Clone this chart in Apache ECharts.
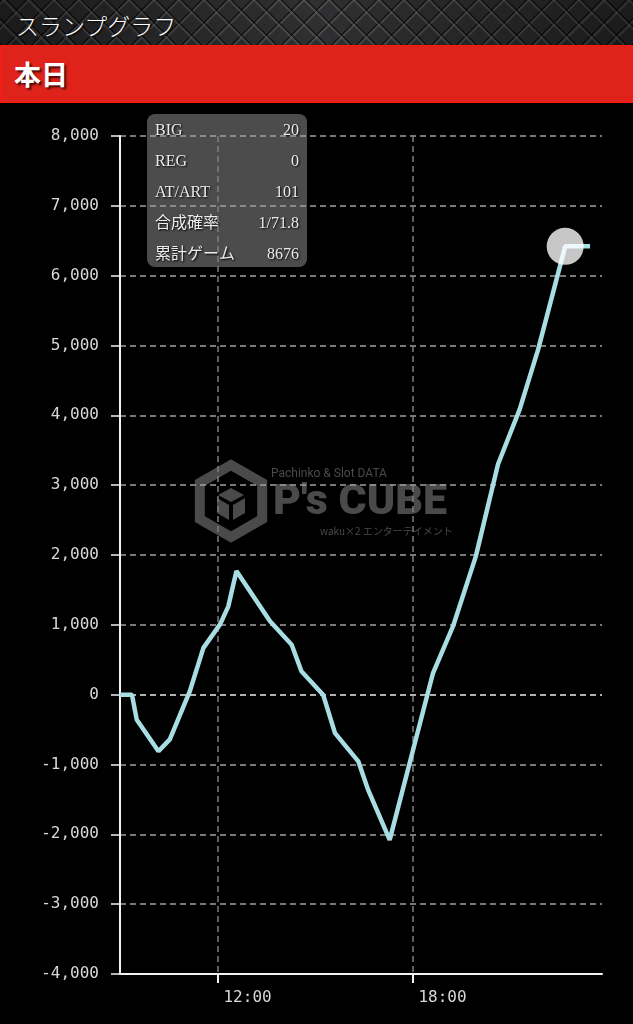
<!DOCTYPE html>
<html><head><meta charset="utf-8">
<script src="https://cdn.jsdelivr.net/npm/echarts@6/dist/echarts.min.js"></script>
<style>
html,body{margin:0;padding:0;background:#000;width:633px;height:1024px;overflow:hidden;}
#top{position:absolute;left:0;top:0;width:633px;height:45px;background-color:#29292b;
background-image:
 linear-gradient(90deg, rgba(0,0,0,0.35), rgba(255,255,255,0.03) 50%, rgba(0,0,0,0.35)),
 repeating-linear-gradient(45deg, rgba(0,0,0,0.6) 0 1.5px, transparent 1.5px 15.5px, rgba(110,110,110,0.35) 15.5px 17.7px),
 repeating-linear-gradient(-45deg, rgba(0,0,0,0.6) 0 1.5px, transparent 1.5px 15.5px, rgba(110,110,110,0.35) 15.5px 17.7px);}
#title{position:absolute;left:16px;top:3px;height:45px;line-height:45px;color:#fff;font-family:"Noto Sans CJK JP";font-weight:300;font-size:23px;text-shadow:1px 1px 2px #000;}
#band{position:absolute;left:0;top:45px;width:633px;height:58px;background:#df231b;box-sizing:border-box;border:1.5px solid #ff1a10;}
#day{position:absolute;left:14px;top:45px;height:58px;line-height:58px;color:#fff;font-family:"Noto Sans CJK JP";font-weight:700;font-size:27px;text-shadow:2px 2px 2px rgba(0,0,0,0.7);}
#chart{position:absolute;left:0;top:0;width:633px;height:1024px;}
</style></head>
<body>
<div id="top"></div><div id="title">スランプグラフ</div>
<div id="band"></div><div id="day">本日</div>
<div id="chart"></div>
<script>
// ---- data ----
const times = ["09:00","09:22","09:31","10:11","10:32","11:09","11:34","12:05","12:20","12:35","13:37","14:17","14:35","15:15","15:37","16:20","16:38","17:18","18:38","19:15","19:57","20:38","21:18","21:52","22:42","23:28"];
const values = [0,0,-360,-810,-640,50,670,1010,1265,1770,1050,715,335,0,-550,-955,-1360,-2080,310,980,1980,3300,4085,4940,6420,6420];
const xTickLabels = ["12:00","18:00"];
const statLabels = ["BIG","REG","AT/ART","合成確率","累計ゲーム"];
const statValues = ["20","0","101","1/71.8","8676"];
const currentIndex = 24;

const toMin = s => { const p = s.split(":"); return (+p[0])*60 + (+p[1]); };
const fmtTime = m => String(Math.floor(m/60)).padStart(2,"0") + ":" + String(m%60).padStart(2,"0");
const lineData = times.map((t,i)=>[toMin(t), values[i]]);
const xTicks = xTickLabels.map(toMin);

const yMin = -4000, yMax = 8000, yStep = 1000;
// split line colours: brighter at zero
const ySplitColors = [];
for (let v = yMin; v <= yMax; v += yStep) ySplitColors.push(v === 0 ? '#ececec' : '#a0a0a0');

const serif = '"Liberation Serif","Noto Sans CJK JP"';
const statChildren = [{
  type:'rect', shape:{x:147,y:114,width:160,height:153,r:8},
  style:{fill:'rgba(98,98,98,0.78)'}
}];
statLabels.forEach((l,i)=>{
  const y = 130.5 + i*31;
  statChildren.push({type:'text', style:{text:l, x:155, y:y, fill:'#ebebeb', font:'16px '+serif, textAlign:'left', textVerticalAlign:'middle', textShadowColor:'#000', textShadowBlur:2, textShadowOffsetX:1, textShadowOffsetY:1}});
  statChildren.push({type:'text', style:{text:statValues[i], x:299, y:y, fill:'#ebebeb', font:'16px '+serif, textAlign:'right', textVerticalAlign:'middle', textShadowColor:'#000', textShadowBlur:2, textShadowOffsetX:1, textShadowOffsetY:1}});
});

const wm = '#4a4a4a';
function hexPts(cx,cy,r){const p=[];for(let k=0;k<6;k++){const a=Math.PI/180*(60*k-90);p.push([cx+r*Math.cos(a),cy+r*Math.sin(a)]);}return p;}
const watermark = [
  {type:'polygon', z:-5, shape:{points:hexPts(231,501,36)}, style:{fill:'none', stroke:wm, lineWidth:10, lineJoin:'miter'}},
  {type:'polygon', z:-5, shape:{points:[[231,488],[244,495],[231,502],[218,495]]}, style:{fill:wm}},
  {type:'polygon', z:-5, shape:{points:[[217,498],[229,505],[229,520],[217,513]]}, style:{fill:wm}},
  {type:'polygon', z:-5, shape:{points:[[245,498],[233,505],[233,520],[245,513]]}, style:{fill:wm}},
  {type:'text', z:-5, style:{text:"P's CUBE", x:273, y:503, fill:wm, font:'900 43px Roboto', textAlign:'left', textVerticalAlign:'middle'}},
  {type:'text', z:-5, style:{text:'Pachinko & Slot DATA', x:271, y:474, fill:wm, font:'12px Roboto', textAlign:'left', textVerticalAlign:'middle'}},
  {type:'text', z:-5, style:{text:'waku×2 エンターテイメント', x:320, y:531, fill:wm, font:'10px "Noto Sans CJK JP"', textAlign:'left', textVerticalAlign:'middle'}}
];

const chart = echarts.init(document.getElementById('chart'), null, {renderer:'canvas'});
chart.setOption({
  backgroundColor:'transparent',
  animation:false,
  grid:{left:120, right:31, top:136, bottom:50, containLabel:false},
  xAxis:{
    type:'value', min:540, max:1430,
    axisLine:{onZero:false, lineStyle:{color:'#f2f2f2', width:2}},
    axisTick:{show:true, length:9, lineStyle:{color:'#f2f2f2', width:2}, customValues:xTicks},
    axisLabel:{customValues:xTicks, formatter:fmtTime, color:'#d8d8d8', fontFamily:'"DejaVu Sans Mono"', fontSize:16, margin:16, align:'left', padding:[0,0,0,6]},
    splitLine:{show:true, lineStyle:{color:'#7e7e7e', type:[6,4], width:1.5}}
  },
  yAxis:{
    type:'value', min:yMin, max:yMax, interval:yStep,
    axisLine:{show:true, lineStyle:{color:'#f2f2f2', width:2}},
    axisTick:{show:true, length:9, lineStyle:{color:'#f2f2f2', width:1.5}},
    axisLabel:{formatter:v=>v.toLocaleString('en-US'), color:'#d8d8d8', fontFamily:'"DejaVu Sans Mono"', fontSize:16, margin:21},
    splitLine:{show:true, lineStyle:{color:ySplitColors, type:[6,4], width:1.5}}
  },
  graphic:[
    {type:'group', z:-5, children:watermark},
    {type:'group', z:50, children:statChildren}
  ],
  series:[
    {type:'line', data:lineData, showSymbol:false, z:5,
     lineStyle:{color:'#a8dde4', width:4.5}, itemStyle:{color:'#a8dde4'}},
    {type:'scatter', data:[lineData[currentIndex]], symbol:'circle', symbolSize:37, z:6,
     itemStyle:{color:'rgba(255,255,255,0.78)', opacity:1}, silent:true}
  ]
});
</script>
</body></html>
